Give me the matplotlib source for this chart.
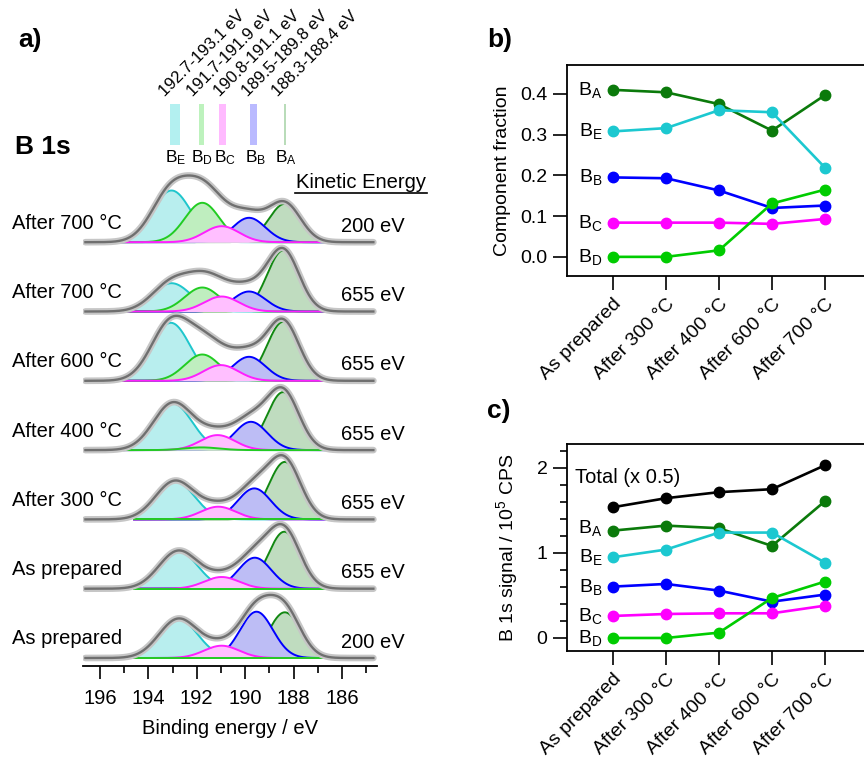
import numpy as np
import matplotlib
matplotlib.use('Agg')
import matplotlib.pyplot as plt
from matplotlib.patches import Rectangle
from matplotlib.ticker import MultipleLocator
from matplotlib.transforms import blended_transform_factory

plt.rcParams['font.family'] = ['Liberation Sans', 'DejaVu Sans']
plt.rcParams['mathtext.fontset'] = 'custom'
plt.rcParams['mathtext.rm'] = 'Liberation Sans'
plt.rcParams['mathtext.it'] = 'Liberation Sans:italic'

# ---- panel a: fitted B 1s spectra (top to bottom) ----
row_labels = ['After 700 °C', 'After 700 °C', 'After 600 °C', 'After 400 °C',
              'After 300 °C', 'As prepared', 'As prepared']
kinetic = ['200 eV', '655 eV', '655 eV', '655 eV', '655 eV', '655 eV', '200 eV']
fit_start = [196.2, 196.2, 196.2, 195.0, 194.6, 194.6, 194.6]

pos_E = [193.04, 193.04, 193.07, 192.99, 192.90, 192.76, 192.76]
pos_D = [191.77, 191.77, 191.77, 191.80, 191.80, 191.80, 191.80]
pos_C = [190.97, 190.97, 191.00, 191.14, 191.11, 190.97, 190.97]
pos_B = [189.84, 189.84, 189.84, 189.76, 189.62, 189.60, 189.53]
pos_A = [188.36, 188.43, 188.43, 188.43, 188.36, 188.38, 188.36]

amp_E = [51.7, 28.3, 58.0, 46.7, 38.3, 37.7, 39.0]
amp_D = [39.4, 24.0, 26.3, 2.7, 0.0, 0.0, 0.0]
amp_C = [16.0, 15.0, 15.7, 15.0, 12.7, 11.7, 12.3]
amp_B = [24.4, 20.0, 24.0, 28.3, 31.0, 31.0, 46.3]
amp_A = [38.4, 61.0, 59.0, 58.0, 57.5, 57.0, 45.7]

width = {'E': 0.80, 'D': 0.72, 'C': 0.72, 'B': 0.68, 'A': 0.66}

range_lo = [192.7, 191.7, 190.8, 189.5, 188.3]
range_hi = [193.1, 191.9, 191.1, 189.8, 188.4]
range_names = ['E', 'D', 'C', 'B', 'A']

# ---- panels b and c ----
stages = ['As prepared', 'After 300 °C', 'After 400 °C', 'After 600 °C', 'After 700 °C']
frac_A = [0.410, 0.404, 0.375, 0.310, 0.397]
frac_E = [0.308, 0.316, 0.360, 0.355, 0.219]
frac_B = [0.195, 0.193, 0.163, 0.120, 0.126]
frac_C = [0.084, 0.084, 0.084, 0.081, 0.093]
frac_D = [0.000, 0.000, 0.016, 0.131, 0.165]

sig_total = [1.537, 1.643, 1.714, 1.749, 2.030]
sig_A = [1.262, 1.321, 1.290, 1.082, 1.608]
sig_E = [0.949, 1.039, 1.239, 1.239, 0.886]
sig_B = [0.604, 0.635, 0.557, 0.427, 0.510]
sig_C = [0.259, 0.282, 0.290, 0.290, 0.380]
sig_D = [0.000, 0.000, 0.063, 0.470, 0.663]

line_col = {'E': '#1fc6cc', 'D': '#22cc22', 'C': '#ff1fff', 'B': '#0000ff', 'A': '#118811'}
fill_col = {'E': '#b8eeee', 'D': '#bfeebf', 'C': '#ffbfff', 'B': '#bdbdf5', 'A': '#bfdcbf'}
bar_col = {'E': '#b3f0f0', 'D': '#bdf2bd', 'C': '#ffbaff', 'B': '#babaff', 'A': '#b9dcb9'}
pt_col = {'A': '#0b7a0b', 'E': '#1cc8d0', 'B': '#0000ff', 'C': '#ff00ff', 'D': '#00cc00'}

W, H = 864, 761
fig = plt.figure(figsize=(W / 100, H / 100), dpi=100)


def px_axes(left, top, right, bottom):
    return fig.add_axes([left / W, 1 - bottom / H, (right - left) / W, (bottom - top) / H])


def sub(c):
    return r'B$_{\mathrm{%s}}$' % c


# ================= panel a =================
ax = px_axes(83, 95, 377, 666)
ax.set_xlim(196.7, 184.55)
ax.set_ylim(0, 571)
for s in ('left', 'right', 'top'):
    ax.spines[s].set_visible(False)
ax.spines['bottom'].set_linewidth(1.3)
ax.set_yticks([])
ax.xaxis.set_major_locator(MultipleLocator(2))
ax.xaxis.set_minor_locator(MultipleLocator(1))
ax.tick_params(axis='x', which='major', direction='out', length=9.5, width=1.2, labelsize=14.5, pad=7)
ax.tick_params(axis='x', which='minor', direction='out', length=5, width=1.2)
ax.set_xlabel('Binding energy / eV', fontsize=14.5, labelpad=8)

e = np.linspace(196.6, 184.7, 700)
step = 69.3
figx = blended_transform_factory(fig.transFigure, ax.transData)

for i in range(len(row_labels)):
    base = 8 + step * (len(row_labels) - 1 - i)
    pars = {'E': (pos_E[i], amp_E[i]), 'D': (pos_D[i], amp_D[i]), 'C': (pos_C[i], amp_C[i]),
            'B': (pos_B[i], amp_B[i]), 'A': (pos_A[i], amp_A[i])}
    order = ['E', 'A', 'B', 'D', 'C'] if amp_D[i] > 5 else ['E', 'A', 'B', 'C', 'D']
    mask = (e <= fit_start[i]) & (e >= 186.7)
    ef = e[mask]
    total = np.zeros_like(e)
    for k, c in enumerate(order):
        p, a = pars[c]
        total += a * np.exp(-(e - p) ** 2 / (2 * width[c] ** 2))
        y = a * np.exp(-(ef - p) ** 2 / (2 * width[c] ** 2))
        z = 2 + k * 0.1
        ax.fill_between(ef, base, base + y, color=fill_col[c], lw=0, zorder=z)
        ax.plot(ef, base + y, color=line_col[c], lw=1.4, zorder=z + 0.05)
    ax.plot(e, base + total, color='#c6c6c6', lw=4.8, zorder=3, solid_capstyle='round')
    ax.plot(e, base + total, color='#6f6f6f', lw=1.7, zorder=3.1)
    ax.text(12 / W, base + 19, row_labels[i], transform=figx, fontsize=14.5,
            ha='left', va='center')
    ax.text(405 / W, base + 16, kinetic[i], transform=figx, fontsize=14.5,
            ha='right', va='center')

ax.text(361 / W, 484, 'Kinetic Energy', transform=figx, fontsize=14.5, ha='center', va='center')
ax.plot([295 / W, 427 / W], [473, 473], transform=figx, color='black', lw=1.2, clip_on=False)

# component energy ranges on top
text_px = [165, 193, 220, 248, 278]
name_px = [176, 202, 225, 256, 286]
for j, c in enumerate(range_names):
    ax.add_patch(Rectangle((range_lo[j], 521), range_hi[j] - range_lo[j], 41,
                           color=bar_col[c], lw=0, clip_on=False))
    ax.text(name_px[j] / W, 508, sub(c), transform=figx, fontsize=12.5,
            ha='center', va='center')
    ax.text(text_px[j] / W, 569, '%.1f-%.1f eV' % (range_lo[j], range_hi[j]),
            transform=figx, fontsize=12, rotation=45, rotation_mode='anchor',
            ha='left', va='baseline')

fig.text(15 / W, 1 - 147 / H, 'B 1s', fontsize=19, fontweight='bold', ha='left', va='center')
fig.text(18 / W, 1 - 40 / H, 'a)', fontsize=19, fontweight='bold', ha='left', va='center')
fig.text(487 / W, 1 - 40 / H, 'b)', fontsize=19, fontweight='bold', ha='left', va='center')
fig.text(487 / W, 1 - 411 / H, 'c)', fontsize=19, fontweight='bold', ha='left', va='center')

# ================= panels b and c =================
x = np.arange(len(stages))


def style_axes(a):
    a.set_xlim(-0.868, 4.85)
    a.spines['right'].set_visible(False)
    for s in ('left', 'top', 'bottom'):
        a.spines[s].set_linewidth(1.3)
    a.set_xticks(x)
    a.set_xticklabels(stages, rotation=45, ha='right', rotation_mode='anchor')
    a.tick_params(which='major', direction='out', length=10, width=1.2, labelsize=14, pad=4)
    a.tick_params(which='minor', direction='out', length=5, width=1.2)


axb = px_axes(567, 65, 870, 276)
style_axes(axb)
axb.set_ylim(-0.047, 0.471)
axb.yaxis.set_major_locator(MultipleLocator(0.1))
axb.yaxis.set_major_formatter(plt.FuncFormatter(lambda v, p: '%.1f' % v))
axb.set_ylabel('Component fraction', fontsize=14, labelpad=7)
for c, vals in (('A', frac_A), ('E', frac_E), ('B', frac_B), ('C', frac_C), ('D', frac_D)):
    axb.plot(x, vals, color=pt_col[c], lw=1.9, marker='o', ms=7.5, zorder=3)
    axb.text(-0.2, vals[0], sub(c), fontsize=14, ha='right', va='center')

axc = px_axes(567, 444, 870, 651)
style_axes(axc)
axc.set_ylim(-0.153, 2.28)
axc.yaxis.set_major_locator(MultipleLocator(1))
axc.yaxis.set_minor_locator(MultipleLocator(0.2))
axc.set_ylabel(r'B 1s signal / 10$^{5}$ CPS', fontsize=14, labelpad=12)
axc.plot(x, sig_total, color='black', lw=1.9, marker='o', ms=7.5, zorder=3)
axc.text(-0.72, 1.89, 'Total (x 0.5)', fontsize=14.5, ha='left', va='center')
for c, vals in (('A', sig_A), ('E', sig_E), ('B', sig_B), ('C', sig_C), ('D', sig_D)):
    axc.plot(x, vals, color=pt_col[c], lw=1.9, marker='o', ms=7.5, zorder=3)
    axc.text(-0.2, vals[0] + (0.03 if c == 'A' else 0), sub(c), fontsize=14,
             ha='right', va='center')

fig.savefig('out.png', dpi=100)
